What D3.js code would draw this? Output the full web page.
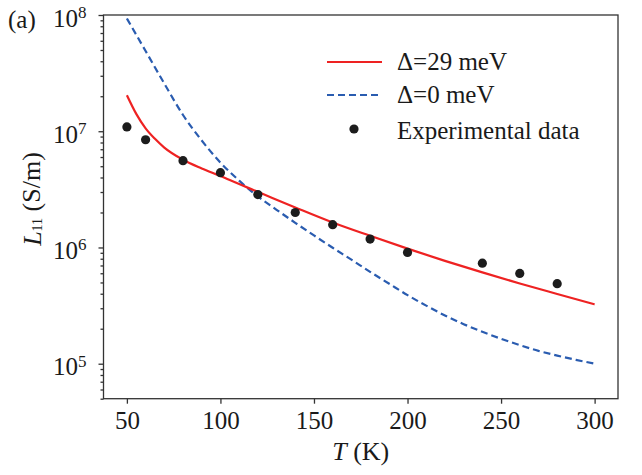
<!DOCTYPE html>
<html>
<head>
  <meta charset="utf-8">
  <title>L11 vs T</title>
  <script src="https://d3js.org/d3.v7.min.js"></script>
  <style>
    body { margin: 0; background: #fff; }
    svg text { font-family: "Liberation Serif", serif !important; fill: #1a1a1a; }
    .axis path, .axis line { stroke: #333; stroke-width: 1.3px; }
  </style>
</head>
<body>
  <div id="chart"></div>
  <script>
    // experimental points
    const tempExp = [50, 60, 80, 100, 120, 140, 160, 180, 200, 240, 260, 280];
    const l11Exp = [1.09e7, 8.45e6, 5.58e6, 4.4e6, 2.85e6, 2.0e6, 1.57e6, 1.18e6, 9.06e5, 7.33e5, 5.98e5, 4.88e5];

    // model, gap 29 meV
    const tempGap29 = [50, 55, 60, 65, 70, 80, 90, 100, 110, 120, 140, 160, 180, 200, 220, 240, 260, 280, 300];
    const l11Gap29 = [2.04e7, 1.41e7, 1.06e7, 8.61e6, 7.24e6, 5.69e6, 4.79e6, 4.12e6, 3.51e6, 3.01e6,
      2.21e6, 1.64e6, 1.26e6, 9.77e5, 7.67e5, 6.10e5, 4.90e5, 3.98e5, 3.24e5];

    // model, gap 0 meV
    const tempGap0 = [50, 55, 60, 70, 80, 90, 100, 110, 120, 130, 140, 150, 160, 170, 180, 190, 200,
      210, 220, 230, 240, 250, 260, 270, 280, 290, 300];
    const l11Gap0 = [9.33e7, 6.76e7, 4.90e7, 2.57e7, 1.38e7, 8.32e6, 5.37e6, 3.76e6, 2.75e6, 2.11e6,
      1.63e6, 1.27e6, 9.95e5, 7.85e5, 6.17e5, 4.90e5, 3.89e5, 3.16e5, 2.60e5, 2.19e5, 1.88e5,
      1.64e5, 1.445e5, 1.29e5, 1.175e5, 1.08e5, 1.0e5];

    const xTicks = [50, 100, 150, 200, 250, 300];
    const yMajor = [1e5, 1e6, 1e7, 1e8];

    const W = 642, H = 475;
    const plotL = 103.5, plotR = 618, plotT = 15, plotB = 398.7;
    const serif = "Liberation Serif, serif";

    const svg = d3.select("#chart").append("svg")
      .attr("width", W).attr("height", H)
      .attr("font-family", serif);

    const x = d3.scaleLinear().domain([37.5, 312.5]).range([plotL, plotR]);
    const y = d3.scaleLog().domain([5e4, 1e8]).range([plotB, plotT]);

    // frame
    svg.append("rect")
      .attr("x", plotL).attr("y", plotT)
      .attr("width", plotR - plotL).attr("height", plotB - plotT)
      .attr("fill", "none").attr("stroke", "#333").attr("stroke-width", 1.3);

    // x axis
    svg.append("g")
      .attr("class", "axis")
      .attr("transform", `translate(0,${plotB})`)
      .call(d3.axisBottom(x).tickValues(xTicks).tickSize(5).tickPadding(8).tickFormat(d3.format("d")))
      .attr("font-family", serif).attr("font-size", 25)
      .call(g => g.select(".domain").remove());

    // y minor ticks
    const yMinor = y.ticks().filter(v => !yMajor.includes(v));
    svg.append("g")
      .attr("class", "axis")
      .attr("transform", `translate(${plotL},0)`)
      .call(d3.axisLeft(y).tickValues(yMinor).tickSize(3).tickFormat(""))
      .call(g => g.select(".domain").remove());

    // y major ticks
    svg.append("g")
      .attr("class", "axis")
      .attr("transform", `translate(${plotL},0)`)
      .call(d3.axisLeft(y).tickValues(yMajor).tickSize(5).tickPadding(12).tickFormat(""))
      .attr("font-family", serif).attr("font-size", 25)
      .call(g => g.select(".domain").remove())
      .call(g => g.selectAll(".tick text")
        .attr("dy", "0.44em")
        .each(function (d) {
          const t = d3.select(this);
          t.append("tspan").text("10");
          t.append("tspan").attr("dy", "-0.5em").attr("font-size", 17).text(Math.round(Math.log10(d)));
        }));

    // curves
    const line = d3.line().curve(d3.curveMonotoneX);

    svg.append("path")
      .attr("d", line(tempGap0.map((t, i) => [x(t), y(l11Gap0[i])])))
      .attr("fill", "none").attr("stroke", "#2a5cb0").attr("stroke-width", 2.2)
      .attr("stroke-dasharray", "7,4");

    svg.append("path")
      .attr("d", line(tempGap29.map((t, i) => [x(t), y(l11Gap29[i])])))
      .attr("fill", "none").attr("stroke", "#ee2222").attr("stroke-width", 2.2);

    svg.append("g").selectAll("circle")
      .data(tempExp)
      .join("circle")
      .attr("cx", d => x(d))
      .attr("cy", (d, i) => y(l11Exp[i]))
      .attr("r", 4.6)
      .attr("fill", "#1c1c1c");

    // legend
    const leg = svg.append("g").attr("font-size", 25);
    leg.append("line").attr("x1", 327).attr("x2", 382).attr("y1", 62).attr("y2", 62)
      .attr("stroke", "#ee2222").attr("stroke-width", 2.2);
    leg.append("text").attr("x", 397).attr("y", 70).text("Δ=29 meV");
    leg.append("line").attr("x1", 327).attr("x2", 382).attr("y1", 95).attr("y2", 95)
      .attr("stroke", "#2a5cb0").attr("stroke-width", 2.2).attr("stroke-dasharray", "7,4");
    leg.append("text").attr("x", 397).attr("y", 103).text("Δ=0 meV");
    leg.append("circle").attr("cx", 354).attr("cy", 129).attr("r", 4.6).attr("fill", "#1c1c1c");
    leg.append("text").attr("x", 397).attr("y", 139).text("Experimental data");

    // axis labels
    const xl = svg.append("text")
      .attr("x", (plotL + plotR) / 2).attr("y", 460)
      .attr("text-anchor", "middle").attr("font-size", 26);
    xl.append("tspan").attr("font-style", "italic").text("T");
    xl.append("tspan").text(" (K)");

    const yl = svg.append("text")
      .attr("transform", "translate(41,199) rotate(-90)")
      .attr("text-anchor", "middle").attr("font-size", 26);
    yl.append("tspan").attr("font-style", "italic").text("L");
    yl.append("tspan").attr("font-size", 14).attr("dy", "0.1em").text("11");
    yl.append("tspan").attr("dy", "-0.1em").text(" (S/m)");

    svg.append("text").attr("x", 8).attr("y", 28).attr("font-size", 25).text("(a)");
  </script>
</body>
</html>
